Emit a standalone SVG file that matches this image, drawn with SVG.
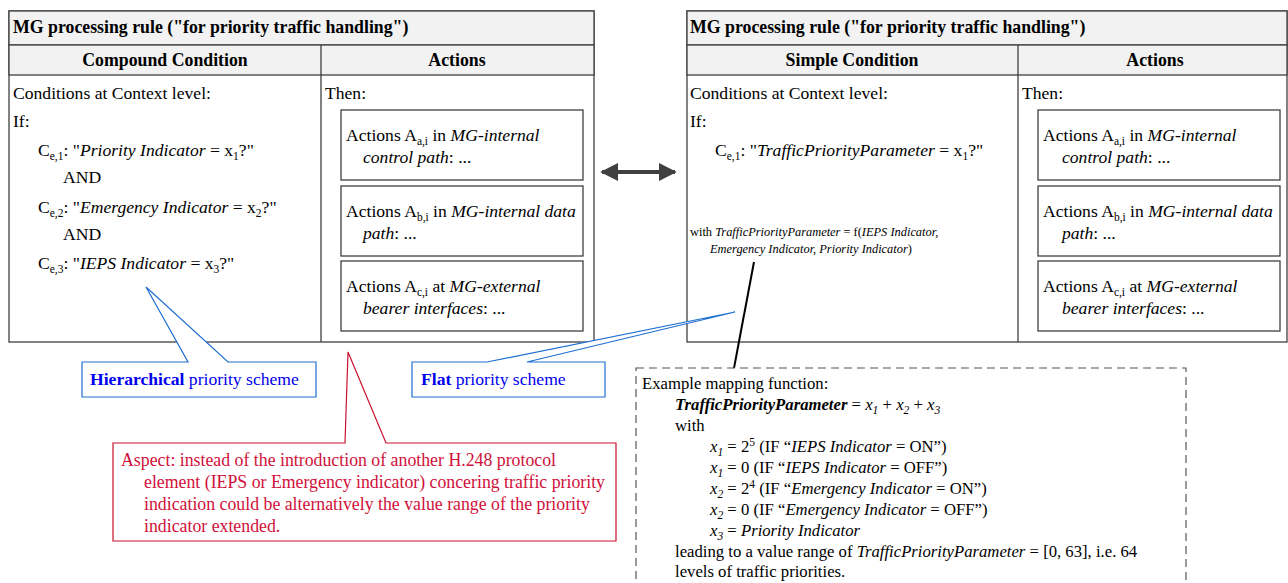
<svg xmlns="http://www.w3.org/2000/svg" width="1288" height="583" viewBox="0 0 1288 583" font-family="'Liberation Serif', 'DejaVu Serif', serif">
<defs>
<style>
text{font-family:'Liberation Serif','DejaVu Serif',serif;font-size:17.6px;fill:#000}
.b{font-weight:bold}
.t{font-size:17.8px}
.i{font-style:italic}
.s{font-size:11.5px}
.hdr{fill:#f2f2f2;stroke:#404040;stroke-width:1.3}
.frame{fill:#fff;stroke:#404040;stroke-width:1.3}
.box{fill:#fff;stroke:#404040;stroke-width:1.3}
.blue{fill:#fff;stroke:#1f6fd1;stroke-width:1.2}
.bt{fill:#0000ee}
.red{fill:#fff;stroke:#c8102e;stroke-width:1.2}
.rt{fill:#d0103a;font-size:17.8px}
.small{font-size:12.4px}
.m{font-size:16.7px}
.dash{fill:#fff;stroke:#555;stroke-width:1.2;stroke-dasharray:8 5}
</style>
<marker id="ah" viewBox="0 0 10 10" refX="9" refY="5" markerWidth="4.5" markerHeight="4.5" orient="auto-start-reverse" markerUnits="strokeWidth">
<path d="M0,0 L10,5 L0,10 z" fill="#404040"/>
</marker>
</defs>

<g id="left-rule">
<rect class="frame" x="9" y="11" width="585" height="331"/>
<rect class="hdr" x="9" y="11" width="585" height="34"/>
<rect class="hdr" x="9" y="45" width="585" height="30"/>
<line x1="321" y1="45" x2="321" y2="342" stroke="#404040" stroke-width="1.3"/>
<text class="b t" x="13" y="33">MG processing rule ("for priority traffic handling")</text>
<text class="b t" x="165" y="66" text-anchor="middle">Compound Condition</text>
<text class="b t" x="457" y="66" text-anchor="middle">Actions</text>
<text x="13" y="99">Conditions at Context level:</text>
<text x="13" y="127">If:</text>
<text x="38" y="156">C<tspan class="s" dy="4">e,1</tspan><tspan dy="-4">: "</tspan><tspan class="i">Priority Indicator</tspan> = x<tspan class="s" dy="4">1</tspan><tspan dy="-4">?"</tspan></text>
<text x="63" y="183">AND</text>
<text x="38" y="213">C<tspan class="s" dy="4">e,2</tspan><tspan dy="-4">: "</tspan><tspan class="i">Emergency Indicator</tspan> = x<tspan class="s" dy="4">2</tspan><tspan dy="-4">?"</tspan></text>
<text x="63" y="240">AND</text>
<text x="38" y="269">C<tspan class="s" dy="4">e,3</tspan><tspan dy="-4">: "</tspan><tspan class="i">IEPS Indicator</tspan> = x<tspan class="s" dy="4">3</tspan><tspan dy="-4">?"</tspan></text>
<text x="325" y="99">Then:</text>
</g>

<g id="left-action-a">
<rect class="box" x="341" y="110" width="242" height="70"/>
<text x="346" y="141">Actions A<tspan class="s" dy="4">a,i</tspan><tspan dy="-4"> in </tspan><tspan class="i">MG-internal</tspan></text>
<text x="363" y="163"><tspan class="i">control path</tspan>: ...</text>
</g>
<g id="left-action-b">
<rect class="box" x="341" y="186" width="242" height="70"/>
<text x="346" y="217">Actions A<tspan class="s" dy="4">b,i</tspan><tspan dy="-4"> in </tspan><tspan class="i">MG-internal data</tspan></text>
<text x="363" y="239"><tspan class="i">path</tspan>: ...</text>
</g>
<g id="left-action-c">
<rect class="box" x="341" y="261" width="242" height="70"/>
<text x="346" y="292">Actions A<tspan class="s" dy="4">c,i</tspan><tspan dy="-4"> at </tspan><tspan class="i">MG-external</tspan></text>
<text x="363" y="314"><tspan class="i">bearer interfaces</tspan>: ...</text>
</g>

<g id="right-rule">
<rect class="frame" x="687" y="11" width="600" height="331"/>
<rect class="hdr" x="687" y="11" width="600" height="34"/>
<rect class="hdr" x="687" y="45" width="600" height="30"/>
<line x1="1018" y1="45" x2="1018" y2="342" stroke="#404040" stroke-width="1.3"/>
<text class="b t" x="690" y="33">MG processing rule ("for priority traffic handling")</text>
<text class="b t" x="852" y="66" text-anchor="middle">Simple Condition</text>
<text class="b t" x="1155" y="66" text-anchor="middle">Actions</text>
<text x="690" y="99">Conditions at Context level:</text>
<text x="690" y="127">If:</text>
<text x="715" y="156">C<tspan class="s" dy="4">e,1</tspan><tspan dy="-4">: "</tspan><tspan class="i">TrafficPriorityParameter</tspan> = x<tspan class="s" dy="4">1</tspan><tspan dy="-4">?"</tspan></text>
<text class="small" x="690" y="236">with <tspan class="i">TrafficPriorityParameter</tspan> = f(<tspan class="i">IEPS Indicator,</tspan></text>
<text class="small i" x="710" y="253">Emergency Indicator, Priority Indicator<tspan font-style="normal">)</tspan></text>
<text x="1022" y="99">Then:</text>
</g>

<g id="right-action-a">
<rect class="box" x="1038" y="110" width="242" height="70"/>
<text x="1043" y="141">Actions A<tspan class="s" dy="4">a,i</tspan><tspan dy="-4"> in </tspan><tspan class="i">MG-internal</tspan></text>
<text x="1062" y="163"><tspan class="i">control path</tspan>: ...</text>
</g>
<g id="right-action-b">
<rect class="box" x="1038" y="186" width="242" height="70"/>
<text x="1043" y="217">Actions A<tspan class="s" dy="4">b,i</tspan><tspan dy="-4"> in </tspan><tspan class="i">MG-internal data</tspan></text>
<text x="1062" y="239"><tspan class="i">path</tspan>: ...</text>
</g>
<g id="right-action-c">
<rect class="box" x="1038" y="261" width="242" height="70"/>
<text x="1043" y="292">Actions A<tspan class="s" dy="4">c,i</tspan><tspan dy="-4"> at </tspan><tspan class="i">MG-external</tspan></text>
<text x="1062" y="314"><tspan class="i">bearer interfaces</tspan>: ...</text>
</g>

<g id="connectors">
<line x1="602" y1="172" x2="675" y2="172" stroke="#404040" stroke-width="4" marker-start="url(#ah)" marker-end="url(#ah)"/>
<line x1="754" y1="262" x2="734" y2="368" stroke="#000" stroke-width="2"/>
</g>

<g id="hierarchical-callout">
<path class="blue" d="M82,362 H188 L146,287 L228,362 H316 V397 H82 Z"/>
<text x="90" y="385" font-size="17.2"><tspan class="b bt">Hierarchical</tspan><tspan class="bt"> priority scheme</tspan></text>
</g>

<g id="flat-callout">
<path class="blue" d="M412,362 H487 L735,312 L527,362 H605 V397 H412 Z"/>
<text x="421" y="385" font-size="17.2"><tspan class="b bt">Flat</tspan><tspan class="bt"> priority scheme</tspan></text>
</g>

<g id="aspect-callout">
<path class="red" d="M113,443 H345 L348,352 L386,443 H616 V541 H113 Z"/>
<text class="rt" x="121" y="466">Aspect: instead of the introduction of another H.248 protocol</text>
<text class="rt" x="144" y="488">element (IEPS or Emergency indicator) concering traffic priority</text>
<text class="rt" x="144" y="510">indication could be alternatively the value range of the priority</text>
<text class="rt" x="144" y="532">indicator extended.</text>
</g>

<g id="mapping-example">
<rect class="dash" x="636" y="368" width="550" height="225"/>
<text class="m" x="642" y="389">Example mapping function:</text>
<text class="m" x="675" y="410"><tspan class="b i">TrafficPriorityParameter</tspan> = <tspan class="i">x<tspan class="s" dy="4">1</tspan></tspan><tspan dy="-4"> + </tspan><tspan class="i">x<tspan class="s" dy="4">2</tspan></tspan><tspan dy="-4"> + </tspan><tspan class="i">x<tspan class="s" dy="4">3</tspan></tspan></text>
<text class="m" x="675" y="431">with</text>
<text class="m" x="710" y="452"><tspan class="i">x<tspan class="s" dy="4">1</tspan></tspan><tspan dy="-4"> = 2</tspan><tspan class="s" dy="-6">5</tspan><tspan dy="6"> (IF “</tspan><tspan class="i">IEPS Indicator</tspan> = ON”)</text>
<text class="m" x="710" y="473"><tspan class="i">x<tspan class="s" dy="4">1</tspan></tspan><tspan dy="-4"> = 0 (IF “</tspan><tspan class="i">IEPS Indicator</tspan> = OFF”)</text>
<text class="m" x="710" y="494"><tspan class="i">x<tspan class="s" dy="4">2</tspan></tspan><tspan dy="-4"> = 2</tspan><tspan class="s" dy="-6">4</tspan><tspan dy="6"> (IF “</tspan><tspan class="i">Emergency Indicator</tspan> = ON”)</text>
<text class="m" x="710" y="515"><tspan class="i">x<tspan class="s" dy="4">2</tspan></tspan><tspan dy="-4"> = 0 (IF “</tspan><tspan class="i">Emergency Indicator</tspan> = OFF”)</text>
<text class="m" x="710" y="536"><tspan class="i">x<tspan class="s" dy="4">3</tspan></tspan><tspan dy="-4"> = </tspan><tspan class="i">Priority Indicator</tspan></text>
<text class="m" x="675" y="557">leading to a value range of <tspan class="i">TrafficPriorityParameter</tspan> = [0, 63], i.e. 64</text>
<text class="m" x="675" y="577">levels of traffic priorities.</text>
</g>
</svg>
